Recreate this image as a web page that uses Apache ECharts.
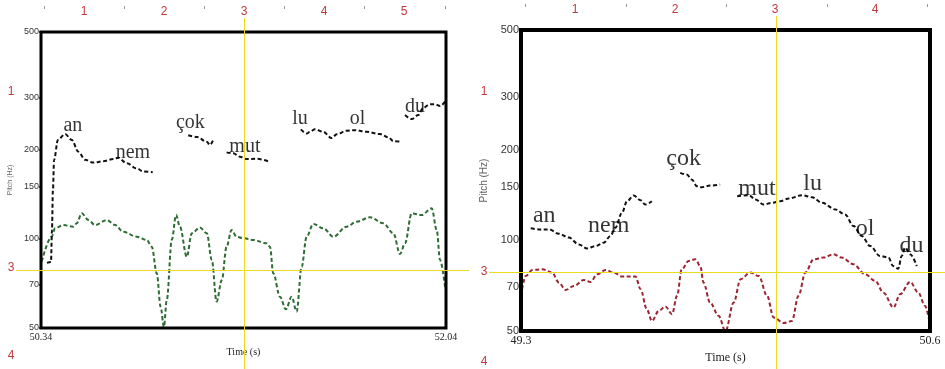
<!DOCTYPE html>
<html>
<head>
<meta charset="utf-8">
<script src="https://cdn.jsdelivr.net/npm/echarts@6/dist/echarts.min.js"></script>
<style>
  html, body { margin: 0; padding: 0; background: #fff; }
  #chart { width: 945px; height: 369px; }
</style>
</head>
<body>
<div id="chart"></div>
<script>
// ---- Shared axis ticks (Hz, log scale) ----
const pitchTicks = [50, 70, 100, 150, 200, 300, 500];

// ---- Left utterance (50.34 – 52.04 s) ----
const leftTimeRange = [50.34, 52.04];
// F0 contour; null marks an unvoiced gap
const leftPitchT = [
  50.365, 50.382, 50.386, 50.39, 50.395, 50.411, 50.441, 50.469, 50.497, 50.525, 50.56, 50.601, 50.643, 50.664, 50.7, 50.742, 50.769, 50.809,
  50.88,
  50.958, 50.994, 51.036, 51.049, 51.063,
  51.09,
  51.119, 51.147, 51.175, 51.203, 51.245, 51.301,
  51.37,
  51.431, 51.455, 51.469, 51.49, 51.525, 51.56, 51.581, 51.623, 51.658, 51.707, 51.763, 51.798, 51.819, 51.854,
  51.861,
  51.868, 51.896, 51.924, 51.944, 51.973, 51.994, 52.015, 52.036
];
const leftPitchHz = [
  83, 83.5, 107, 146, 185, 216, 226, 216, 197, 185, 181, 183, 186, 188, 180, 173, 169, 168,
  null,
  224, 221, 213, 207.5, 216,
  null,
  196, 194.6, 189.5, 186, 186.5, 182,
  null,
  234.5, 227, 230, 234.5, 230, 219, 225.5, 232, 233, 230, 226, 220.5, 214, 213,
  null,
  262, 254, 262, 277, 285, 285, 281, 291
];
// Intensity-style contour drawn on the same scale
const leftLevelT = [
  50.343, 50.385, 50.399, 50.434, 50.476, 50.49, 50.511, 50.539, 50.567, 50.616,
  50.651, 50.685, 50.742, 50.784, 50.805, 50.826, 50.842, 50.856, 50.868, 50.889,
  50.907, 50.923, 50.952, 50.973, 51.007, 51.036, 51.057, 51.077, 51.099, 51.119,
  51.14, 51.161, 51.189, 51.231, 51.287, 51.301, 51.315, 51.343, 51.368, 51.392,
  51.413, 51.434, 51.455, 51.483, 51.525, 51.567, 51.623, 51.665, 51.721, 51.777,
  51.819, 51.847, 51.868, 51.896, 51.938, 51.98, 52.001, 52.015, 52.036
];
const leftLevelHz = [
  83.8, 101.7, 108.6, 111.4, 110, 112.9, 122, 115.8, 111.4, 115.8,
  111.4, 105.7, 101.7, 99.2, 94.1, 76.5, 59, 50.5, 62.2, 99.2,
  120.4, 110, 87, 104.5, 109.2, 104.5, 84.9, 61.4, 72.6, 94.1,
  107.2, 101.7, 100.5, 99.2, 96.6, 94.1, 76.5, 63.8, 57.8, 63.8,
  56.8, 80.5, 101.7, 112.3, 108.6, 101.7, 110, 114.3, 118.3, 112.9,
  104.5, 88.9, 96.6, 122, 120.4, 126.9, 107.2, 84.9, 68.9
];
const leftWords = ['an', 'nem', 'çok', 'mut', 'lu', 'ol', 'du'];
const leftWordT = [50.474, 50.726, 50.967, 51.196, 51.427, 51.669, 51.91];
const leftWordHz = [244, 199, 250, 207.5, 259, 259, 283];

// ---- Right utterance (49.3 – 50.6 s) ----
const rightTimeRange = [49.3, 50.6];
const rightPitchT = [
  49.331, 49.357, 49.389, 49.42, 49.452, 49.484, 49.51, 49.537, 49.563, 49.584, 49.6, 49.621, 49.637, 49.658, 49.68, 49.695, 49.716,
  49.76,
  49.806, 49.827, 49.843, 49.859, 49.875, 49.901, 49.933,
  49.96,
  49.987, 50.024, 50.045, 50.071, 50.098, 50.124, 50.151, 50.193, 50.225, 50.257, 50.299, 50.33, 50.357, 50.383, 50.41, 50.441, 50.468, 50.483, 50.499, 50.51, 50.521, 50.537, 50.558
];
const rightPitchHz = [
  109.7, 108.8, 108.8, 105.3, 102.2, 97, 94.1, 95.8, 98.3, 103.4, 110.3, 123.6, 135, 141, 136, 131.7, 135,
  null,
  167.7, 165.5, 159.4, 151.4, 150.3, 152.2, 153.4,
  null,
  140.3, 141.4, 136.8, 131.7, 133.4, 135, 137.8, 141.4, 139.2, 133.4, 126.8, 122, 111.6, 103.4, 95.8, 88.8, 87.7, 82.2, 80.6, 88.8, 94.7, 90, 82.2
];
const rightLevelT = [
  49.3, 49.315, 49.336, 49.368, 49.399, 49.42, 49.442, 49.468, 49.5, 49.521,
  49.542, 49.569, 49.595, 49.621, 49.664, 49.68, 49.7, 49.716, 49.738, 49.759,
  49.78, 49.796, 49.811, 49.833, 49.854, 49.87, 49.88, 49.901, 49.928, 49.95,
  49.976, 49.998, 50.029, 50.056, 50.082, 50.103, 50.135, 50.161, 50.182, 50.204,
  50.23, 50.262, 50.293, 50.32, 50.357, 50.394, 50.426, 50.452, 50.484, 50.505,
  50.537, 50.563, 50.584, 50.598
];
const rightLevelHz = [
  65.5, 76.2, 79.8, 80.2, 78.2, 72.5, 68.5, 70.6, 73.9, 72.8,
  77.2, 79.8, 78.2, 75.9, 75.9, 68.9, 59.1, 54, 58.4, 60.4,
  56.9, 65.5, 80.2, 85.5, 86.6, 82.2, 72.5, 62.2, 56.2, 50,
  62.2, 74.4, 78.2, 76.2, 65.5, 55.5, 53.2, 54, 65.5, 78.2,
  86.6, 87.7, 90, 87.7, 83.3, 77.2, 73.4, 67.1, 59.9, 66.3,
  72.8, 67.1, 60.7, 54
];
const rightWords = ['an', 'nem', 'çok', 'mut', 'lu', 'ol', 'du'];
const rightWordT = [49.374, 49.579, 49.817, 50.05, 50.227, 50.394, 50.541];
const rightWordHz = [122.9, 113.9, 189.8, 151, 157, 111.4, 97.8];

// ---- Helpers ----
const zip = (xs, ys) => xs.map((x, i) => [x, ys[i] === null ? '-' : ys[i]]);
const wordPoints = (words, ts, hz) => words.map((w, i) => ({ name: w, value: [ts[i], hz[i]] }));

const SERIF = '"Liberation Serif", "Times New Roman", serif';
const SANS = '"Liberation Sans", Arial, sans-serif';
const RULER = '#c0393b';
const CROSS = '#e9dc1c';

function xAxisFor(idx, range, fs, gap) {
  return {
    type: 'value', gridIndex: idx, min: range[0], max: range[1],
    axisLine: { show: false }, axisTick: { show: false }, splitLine: { show: false },
    axisLabel: {
      customValues: range, color: '#222', fontFamily: SERIF, fontSize: fs, margin: 4,
      formatter: v => String(v)
    },
    name: 'Time (s)', nameLocation: 'middle', nameGap: gap,
    nameTextStyle: { color: '#222', fontFamily: SERIF, fontSize: fs }
  };
}
function yAxisFor(idx, fs, nameFs, gap) {
  return {
    type: 'log', logBase: 10, gridIndex: idx, min: 50, max: 500,
    axisLine: { show: false }, splitLine: { show: false },
    axisTick: { show: true, customValues: pitchTicks, length: 2, lineStyle: { color: '#333', width: 1.5 } },
    axisLabel: { customValues: pitchTicks, color: '#333', fontFamily: SANS, fontSize: fs, margin: 2 },
    name: 'Pitch (Hz)', nameLocation: 'middle', nameRotate: 90, nameGap: gap,
    nameTextStyle: { color: '#666', fontFamily: SANS, fontSize: nameFs }
  };
}
function contour(xi, data, color, width) {
  return {
    type: 'line', xAxisIndex: xi, yAxisIndex: xi, data: data,
    showSymbol: false, symbol: 'none', smooth: 0.35, smoothMonotone: 'x', connectNulls: false,
    lineStyle: { color: color, width: width, type: [4, 2.5] }, silent: true, z: 3
  };
}
function words(xi, data, fs) {
  return {
    type: 'scatter', xAxisIndex: xi, yAxisIndex: xi, data: data, symbolSize: 0, silent: true, z: 5,
    label: { show: true, position: 'inside', offset: [0, 2], formatter: p => p.name, color: '#000', fontFamily: SERIF, fontSize: fs }
  };
}

// Ruler overlay: red grid numbers, small tick marks, yellow crosshair
const graphic = [];
function rulerText(x, y, t) {
  graphic.push({ type: 'text', x: x, y: y, z: 20, silent: true,
    style: { text: t, fill: RULER, font: '12px ' + SANS, align: 'center', verticalAlign: 'middle' } });
}
function rulerMark(x, y) {
  graphic.push({ type: 'rect', z: 20, silent: true, shape: { x: x, y: y, width: 1, height: 3 },
    style: { fill: '#999' } });
}
function crossBar(x, y, w, h) {
  graphic.push({ type: 'rect', z: 19, silent: true, shape: { x: x, y: y, width: w, height: h },
    style: { fill: CROSS } });
}
['1', '2', '3', '4', '5'].forEach((t, i) => rulerText(84 + i * 80, 12, t));
[44, 124, 204, 284, 364, 445].forEach(x => rulerMark(x, 6));
rulerText(11, 92, '1'); rulerText(11, 268, '3'); rulerText(11, 356, '4');
['1', '2', '3', '4'].forEach((t, i) => rulerText(575 + i * 100, 10, t));
[525, 626, 726, 827, 927].forEach(x => rulerMark(x, 4));
rulerText(484, 92, '1'); rulerText(484, 272, '3'); rulerText(484, 362, '4');
crossBar(244, 18, 1, 351); crossBar(16, 270, 453, 1);
crossBar(776, 16, 1, 353); crossBar(489, 272, 456, 1);

const chart = echarts.init(document.getElementById('chart'), null, { renderer: 'canvas' });
chart.setOption({
  backgroundColor: '#fff',
  animation: false,
  grid: [
    { left: 41, top: 32, width: 405, height: 296, show: true, borderColor: '#000', borderWidth: 3, backgroundColor: 'transparent', z: 4 },
    { left: 521, top: 30, width: 409, height: 302, show: true, borderColor: '#000', borderWidth: 4, backgroundColor: 'transparent', z: 4 }
  ],
  xAxis: [xAxisFor(0, leftTimeRange, 10, 18), xAxisFor(1, rightTimeRange, 12, 20)],
  yAxis: [yAxisFor(0, 9, 7, 27), yAxisFor(1, 11, 10, 32)],
  series: [
    contour(0, zip(leftLevelT, leftLevelHz), '#2f6b34', 2),
    contour(0, zip(leftPitchT, leftPitchHz), '#111', 2),
    words(0, wordPoints(leftWords, leftWordT, leftWordHz), 20),
    contour(1, zip(rightLevelT, rightLevelHz), '#9b2530', 2),
    contour(1, zip(rightPitchT, rightPitchHz), '#111', 2),
    words(1, wordPoints(rightWords, rightWordT, rightWordHz), 24)
  ],
  graphic: graphic
});
</script>
</body>
</html>
